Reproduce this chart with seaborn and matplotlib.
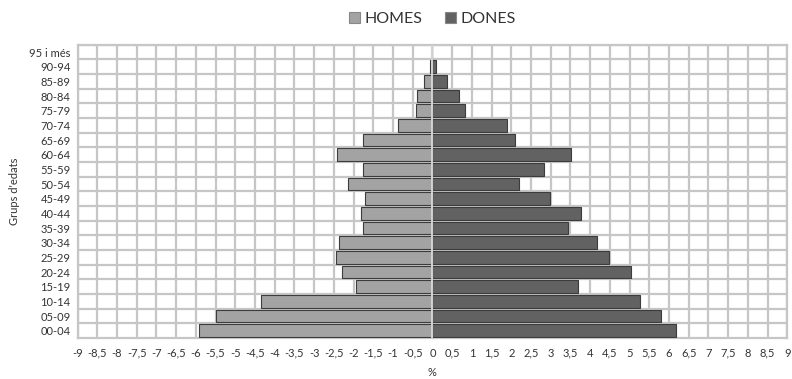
import numpy as np
import pandas as pd
import matplotlib
matplotlib.use("Agg")
import matplotlib.pyplot as plt
from matplotlib.ticker import FuncFormatter, MultipleLocator
import seaborn as sns

# Age groups, listed from oldest (top) to youngest (bottom)
grups = ["95 i més", "90-94", "85-89", "80-84", "75-79", "70-74", "65-69",
         "60-64", "55-59", "50-54", "45-49", "40-44", "35-39", "30-34",
         "25-29", "20-24", "15-19", "10-14", "05-09", "00-04"]

# Share of the population (%) by sex
homes = [0.0, 0.05, 0.21, 0.39, 0.42, 0.87, 1.77, 2.41, 1.77, 2.15,
         1.70, 1.81, 1.77, 2.36, 2.44, 2.29, 1.93, 4.36, 5.49, 5.91]
dones = [0.0, 0.10, 0.37, 0.68, 0.82, 1.89, 2.10, 3.51, 2.83, 2.19,
         2.98, 3.77, 3.45, 4.18, 4.49, 5.03, 3.70, 5.26, 5.79, 6.17]

df = pd.concat([
    pd.DataFrame({"grup": grups, "valor": [-v for v in homes], "sexe": "HOMES"}),
    pd.DataFrame({"grup": grups, "valor": dones, "sexe": "DONES"}),
])

sns.set_theme(style="white")
plt.rcParams["font.family"] = ["Lato", "DejaVu Sans"]

fig, ax = plt.subplots(figsize=(7.92, 3.79), dpi=100)
fig.subplots_adjust(left=0.098, right=0.994, top=0.882, bottom=0.108)

sns.barplot(data=df, x="valor", y="grup", hue="sexe", order=grups,
            hue_order=["HOMES", "DONES"], dodge=False, width=0.86,
            palette={"HOMES": "#a3a3a3", "DONES": "#626262"},
            edgecolor="#3c3c3c", linewidth=0.8, orient="h", ax=ax, zorder=3)

ax.set_xlim(-9, 9)
ax.set_ylim(len(grups) - 0.5, -0.5)
ax.xaxis.set_major_locator(MultipleLocator(0.5))

def fmt(v, _):
    if abs(v - round(v)) < 1e-9:
        return f"{int(round(v))}"
    return f"{v:g}".replace(".", ",")

ax.xaxis.set_major_formatter(FuncFormatter(fmt))

# Grid: vertical lines at every 0.5 %, horizontal lines between age groups
ax.set_yticks(np.arange(len(grups)) - 0.5, minor=True)
ax.grid(axis="x", which="major", color="#c6c6c6", linewidth=1.6, zorder=0)
ax.grid(axis="y", which="minor", color="#c6c6c6", linewidth=1.6, zorder=0)
ax.set_axisbelow(True)
ax.axvline(0, color="#d4d4d4", linewidth=1.4, zorder=4)

for s in ax.spines.values():
    s.set_color("#c6c6c6")
    s.set_linewidth(1.6)

ax.tick_params(axis="x", labelsize=8, colors="#333333", length=0, pad=7)
ax.tick_params(axis="y", labelsize=8, colors="#333333", length=0, pad=5)
ax.tick_params(axis="y", which="minor", length=0)

ax.set_xlabel("%", fontsize=8, color="#333333", labelpad=6)
ax.set_ylabel("Grups d'edats", fontsize=8, color="#333333", labelpad=7)

sns.move_legend(ax, "lower center", bbox_to_anchor=(0.5, 1.015), ncol=2,
                frameon=False, title=None, fontsize=11.5, handlelength=0.7,
                handleheight=0.7, handletextpad=0.3, columnspacing=1.4)
for t in ax.get_legend().get_texts():
    t.set_color("#333333")
for h in ax.get_legend().legend_handles:
    h.set_edgecolor("#888888")

fig.savefig("out.png", dpi=100)
